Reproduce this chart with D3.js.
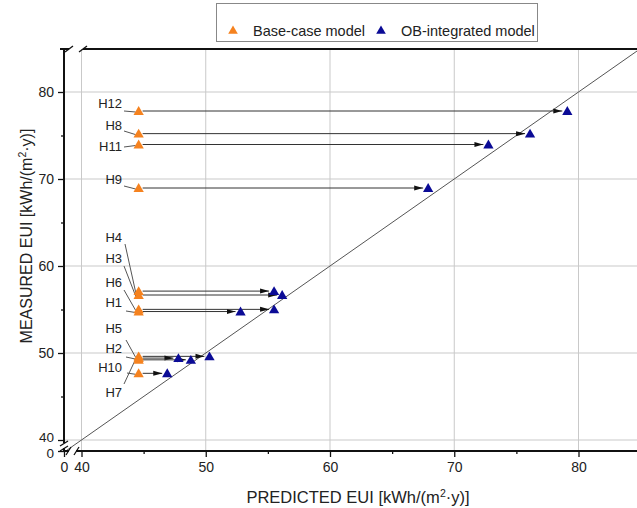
<!DOCTYPE html>
<html>
<head>
<meta charset="utf-8">
<script src="https://cdn.jsdelivr.net/npm/d3@7"></script>
<style>
html,body{margin:0;padding:0;background:#fff;}
svg{display:block;font-family:"Liberation Sans",Arial,sans-serif;}
</style>
</head>
<body>
<svg id="chart" width="637" height="508"></svg>
<script>
// ---- data ----
const buildings     = ["H12","H8","H11","H9","H4","H3","H6","H1","H5","H2","H7","H10"];
const measuredEUI   = [77.7, 75.1, 73.85, 68.85, 57.0, 56.55, 54.9, 54.65, 49.5, 49.3, 49.1, 47.55];
const predictedBase = [44.6, 44.6, 44.6, 44.6, 44.6, 44.6, 44.6, 44.6, 44.6, 44.6, 44.6, 44.6];
const predictedOB   = [79.1, 76.1, 72.75, 67.9, 55.5, 56.15, 55.5, 52.8, 50.3, 47.8, 48.8, 46.9];
const xTickValues   = [40, 50, 60, 70, 80];
const yTickValues   = [40, 50, 60, 70, 80];
const xMinorTicks   = [45, 55, 65, 75, 85];
const yMinorTicks   = [45, 55, 65, 75, 85];
const seriesNames   = ["Base-case model", "OB-integrated model"];

// ---- layout ----
const svg = d3.select("#chart");
const W = 637, H = 508;
const axL = 64, axT = 49, axB = 451;
const x = d3.scaleLinear().domain([40, 80]).range([81.5, 578.5]);
const y = d3.scaleLinear().domain([40, 80]).range([440, 92]);
const xb = d3.scaleLinear().domain([0, 40]).range([axL, 81.5]);
const yb = d3.scaleLinear().domain([0, 40]).range([axB, 440]);
const orange = "#f5821f", blue = "#0b0b96";

svg.append("rect").attr("width", W).attr("height", H).attr("fill", "#fff");

// grid
const g = svg.append("g");
g.selectAll(".vg").data(xTickValues).join("line")
  .attr("x1", d => x(d)).attr("x2", d => x(d)).attr("y1", axT).attr("y2", axB)
  .attr("stroke", "#c9c9c9").attr("stroke-width", 1);
g.selectAll(".hg").data(yTickValues).join("line")
  .attr("x1", axL).attr("x2", W).attr("y1", d => y(d)).attr("y2", d => y(d))
  .attr("stroke", "#c9c9c9").attr("stroke-width", 1);

// diagonal y = x
svg.append("line")
  .attr("x1", x(38.6)).attr("y1", y(38.6)).attr("x2", x(86)).attr("y2", y(86))
  .attr("stroke", "#555").attr("stroke-width", 1);

// axes: ticks via d3 axes, domain lines drawn with breaks
svg.append("g").attr("transform", `translate(0,${axB})`)
  .call(d3.axisBottom(x).tickValues(xTickValues).tickSize(6).tickPadding(5))
  .call(a => a.select(".domain").remove());
svg.append("g").attr("transform", `translate(0,${axB})`)
  .call(d3.axisBottom(x).tickValues(xMinorTicks).tickSize(3).tickFormat(""))
  .call(a => a.select(".domain").remove());
svg.append("g").attr("transform", `translate(0,${axB})`)
  .call(d3.axisBottom(xb).tickValues([0]).tickSize(6).tickPadding(5))
  .call(a => a.select(".domain").remove());

const yMajor = svg.append("g").attr("transform", `translate(${axL},0)`)
  .call(d3.axisLeft(y).tickValues(yTickValues).tickSize(6).tickPadding(4))
  .call(a => a.select(".domain").remove());
svg.append("g").attr("transform", `translate(${axL},0)`)
  .call(d3.axisLeft(y).tickValues(yMinorTicks.filter(v => y(v) > axT)).tickSize(3).tickFormat(""))
  .call(a => a.select(".domain").remove());
const yZero = svg.append("g").attr("transform", `translate(${axL},0)`)
  .call(d3.axisLeft(yb).tickValues([0]).tickSize(6).tickPadding(4))
  .call(a => a.select(".domain").remove());

svg.selectAll(".tick text").attr("font-size", 14).attr("fill", "#222")
  .attr("font-family", "Liberation Sans, Arial, sans-serif");
svg.selectAll(".tick line").attr("stroke", "#111").attr("stroke-width", 1.3);
// the two labels at the y-axis break sit very close together
yMajor.selectAll(".tick text").filter(d => d === 40).attr("dy", "0.1em").attr("font-size", 13.5);
yZero.selectAll(".tick text").attr("dy", "0.5em").attr("font-size", 13.5);

// axis lines with breaks
const axisStroke = "#111";
function seg(x1, y1, x2, y2, w) {
  svg.append("line").attr("x1", x1).attr("y1", y1).attr("x2", x2).attr("y2", y2)
    .attr("stroke", axisStroke).attr("stroke-width", w);
}
// left axis
seg(axL, axT, axL, 443, 2);
seg(axL, 448, axL, axB + 1, 2);
seg(axL - 4, 446, axL + 4, 441, 1.3);
seg(axL - 4, 451, axL + 4, 446, 1.3);
// bottom axis
seg(axL - 1, axB, 69, axB, 2);
seg(76, axB, W, axB, 2);
seg(66, axB + 4, 71, axB - 4, 1.3);
seg(74, axB + 4, 79, axB - 4, 1.3);
// top frame
seg(axL - 4, axT, 69, axT, 2);
seg(83, axT, W, axT, 2);
seg(65, axT + 3, 73, axT - 3, 1.3);
seg(79, axT + 3, 87, axT - 3, 1.3);

// arrow marker
svg.append("defs").append("marker")
  .attr("id", "arr").attr("markerUnits", "userSpaceOnUse")
  .attr("markerWidth", 9).attr("markerHeight", 6).attr("refX", 9).attr("refY", 3)
  .attr("orient", "auto")
  .append("path").attr("d", "M0,0.5 L9,3 L0,5.5 Z").attr("fill", "#111");

const idx = d3.range(buildings.length);
svg.append("g").selectAll("line").data(idx).join("line")
  .attr("x1", i => x(predictedBase[i]) + 4)
  .attr("x2", i => x(predictedOB[i]) - 5)
  .attr("y1", i => y(measuredEUI[i]) - 1)
  .attr("y2", i => y(measuredEUI[i]) - 1)
  .attr("stroke", "#333").attr("stroke-width", 1)
  .attr("marker-end", "url(#arr)");

// labels with leader lines (pixel offsets for annotation layout)
const labelLayout = {
  H12: {tx: 122, ty: 108, lx: 124, ly: 111},
  H8:  {tx: 122, ty: 130, lx: 124, ly: 131},
  H11: {tx: 122, ty: 151, lx: 124, ly: 147},
  H9:  {tx: 122, ty: 184, lx: 124, ly: 186},
  H4:  {tx: 122, ty: 242, lx: 125, ly: 244},
  H3:  {tx: 122, ty: 263, lx: 124, ly: 266},
  H6:  {tx: 122, ty: 287, lx: 124, ly: 290},
  H1:  {tx: 122, ty: 307, lx: 126, ly: 311},
  H5:  {tx: 122, ty: 333, lx: 126, ly: 340},
  H2:  {tx: 122, ty: 353, lx: 126, ly: 357},
  H10: {tx: 122, ty: 372, lx: 127, ly: 373},
  H7:  {tx: 122, ty: 397, lx: 124, ly: 384, target: "H2"}
};
const lab = svg.append("g");
idx.forEach(i => {
  const L = labelLayout[buildings[i]];
  const ti = L.target ? buildings.indexOf(L.target) : i;
  lab.append("line").attr("x1", L.lx).attr("y1", L.ly)
    .attr("x2", x(predictedBase[ti]) - 3).attr("y2", y(measuredEUI[ti]))
    .attr("stroke", "#555").attr("stroke-width", 1);
  lab.append("text").attr("x", L.tx).attr("y", L.ty).attr("text-anchor", "end")
    .attr("font-size", 13).attr("fill", "#222").text(buildings[i]);
});

// markers
const tri = d3.symbol().type(d3.symbolTriangle).size(46);
svg.append("g").selectAll("path").data(idx).join("path")
  .attr("d", tri).attr("fill", orange)
  .attr("transform", i => `translate(${x(predictedBase[i])},${y(measuredEUI[i])})`);
svg.append("g").selectAll("path").data(idx).join("path")
  .attr("d", tri).attr("fill", blue)
  .attr("transform", i => `translate(${x(predictedOB[i])},${y(measuredEUI[i])})`);

// legend
const leg = svg.append("g");
leg.append("rect").attr("x", 216.5).attr("y", 3.5).attr("width", 321).attr("height", 38)
  .attr("fill", "#fff").attr("stroke", "#888").attr("stroke-width", 1);
const legItems = [{name: seriesNames[0], c: orange, mx: 233, tx: 253},
                  {name: seriesNames[1], c: blue, mx: 381, tx: 401}];
legItems.forEach(it => {
  leg.append("path").attr("d", d3.symbol().type(d3.symbolTriangle).size(40))
    .attr("fill", it.c).attr("transform", `translate(${it.mx},${31})`);
  leg.append("text").attr("x", it.tx).attr("y", 36).attr("font-size", 14.5)
    .attr("fill", "#222").text(it.name);
});

// axis titles
const xt = svg.append("text").attr("x", 358).attr("y", 503).attr("text-anchor", "middle")
  .attr("font-size", 16.5).attr("fill", "#222");
xt.append("tspan").text("PREDICTED EUI [kWh/(m");
xt.append("tspan").attr("font-size", 10.5).attr("dy", -6).text("2");
xt.append("tspan").attr("dy", 6).text("·y)]");

const yt = svg.append("text").attr("transform", "translate(32,236) rotate(-90)")
  .attr("text-anchor", "middle").attr("font-size", 16).attr("fill", "#222");
yt.append("tspan").text("MEASURED EUI [kWh/(m");
yt.append("tspan").attr("font-size", 10.5).attr("dy", -6).text("2");
yt.append("tspan").attr("dy", 6).text("·y)]");
</script>
</body>
</html>
